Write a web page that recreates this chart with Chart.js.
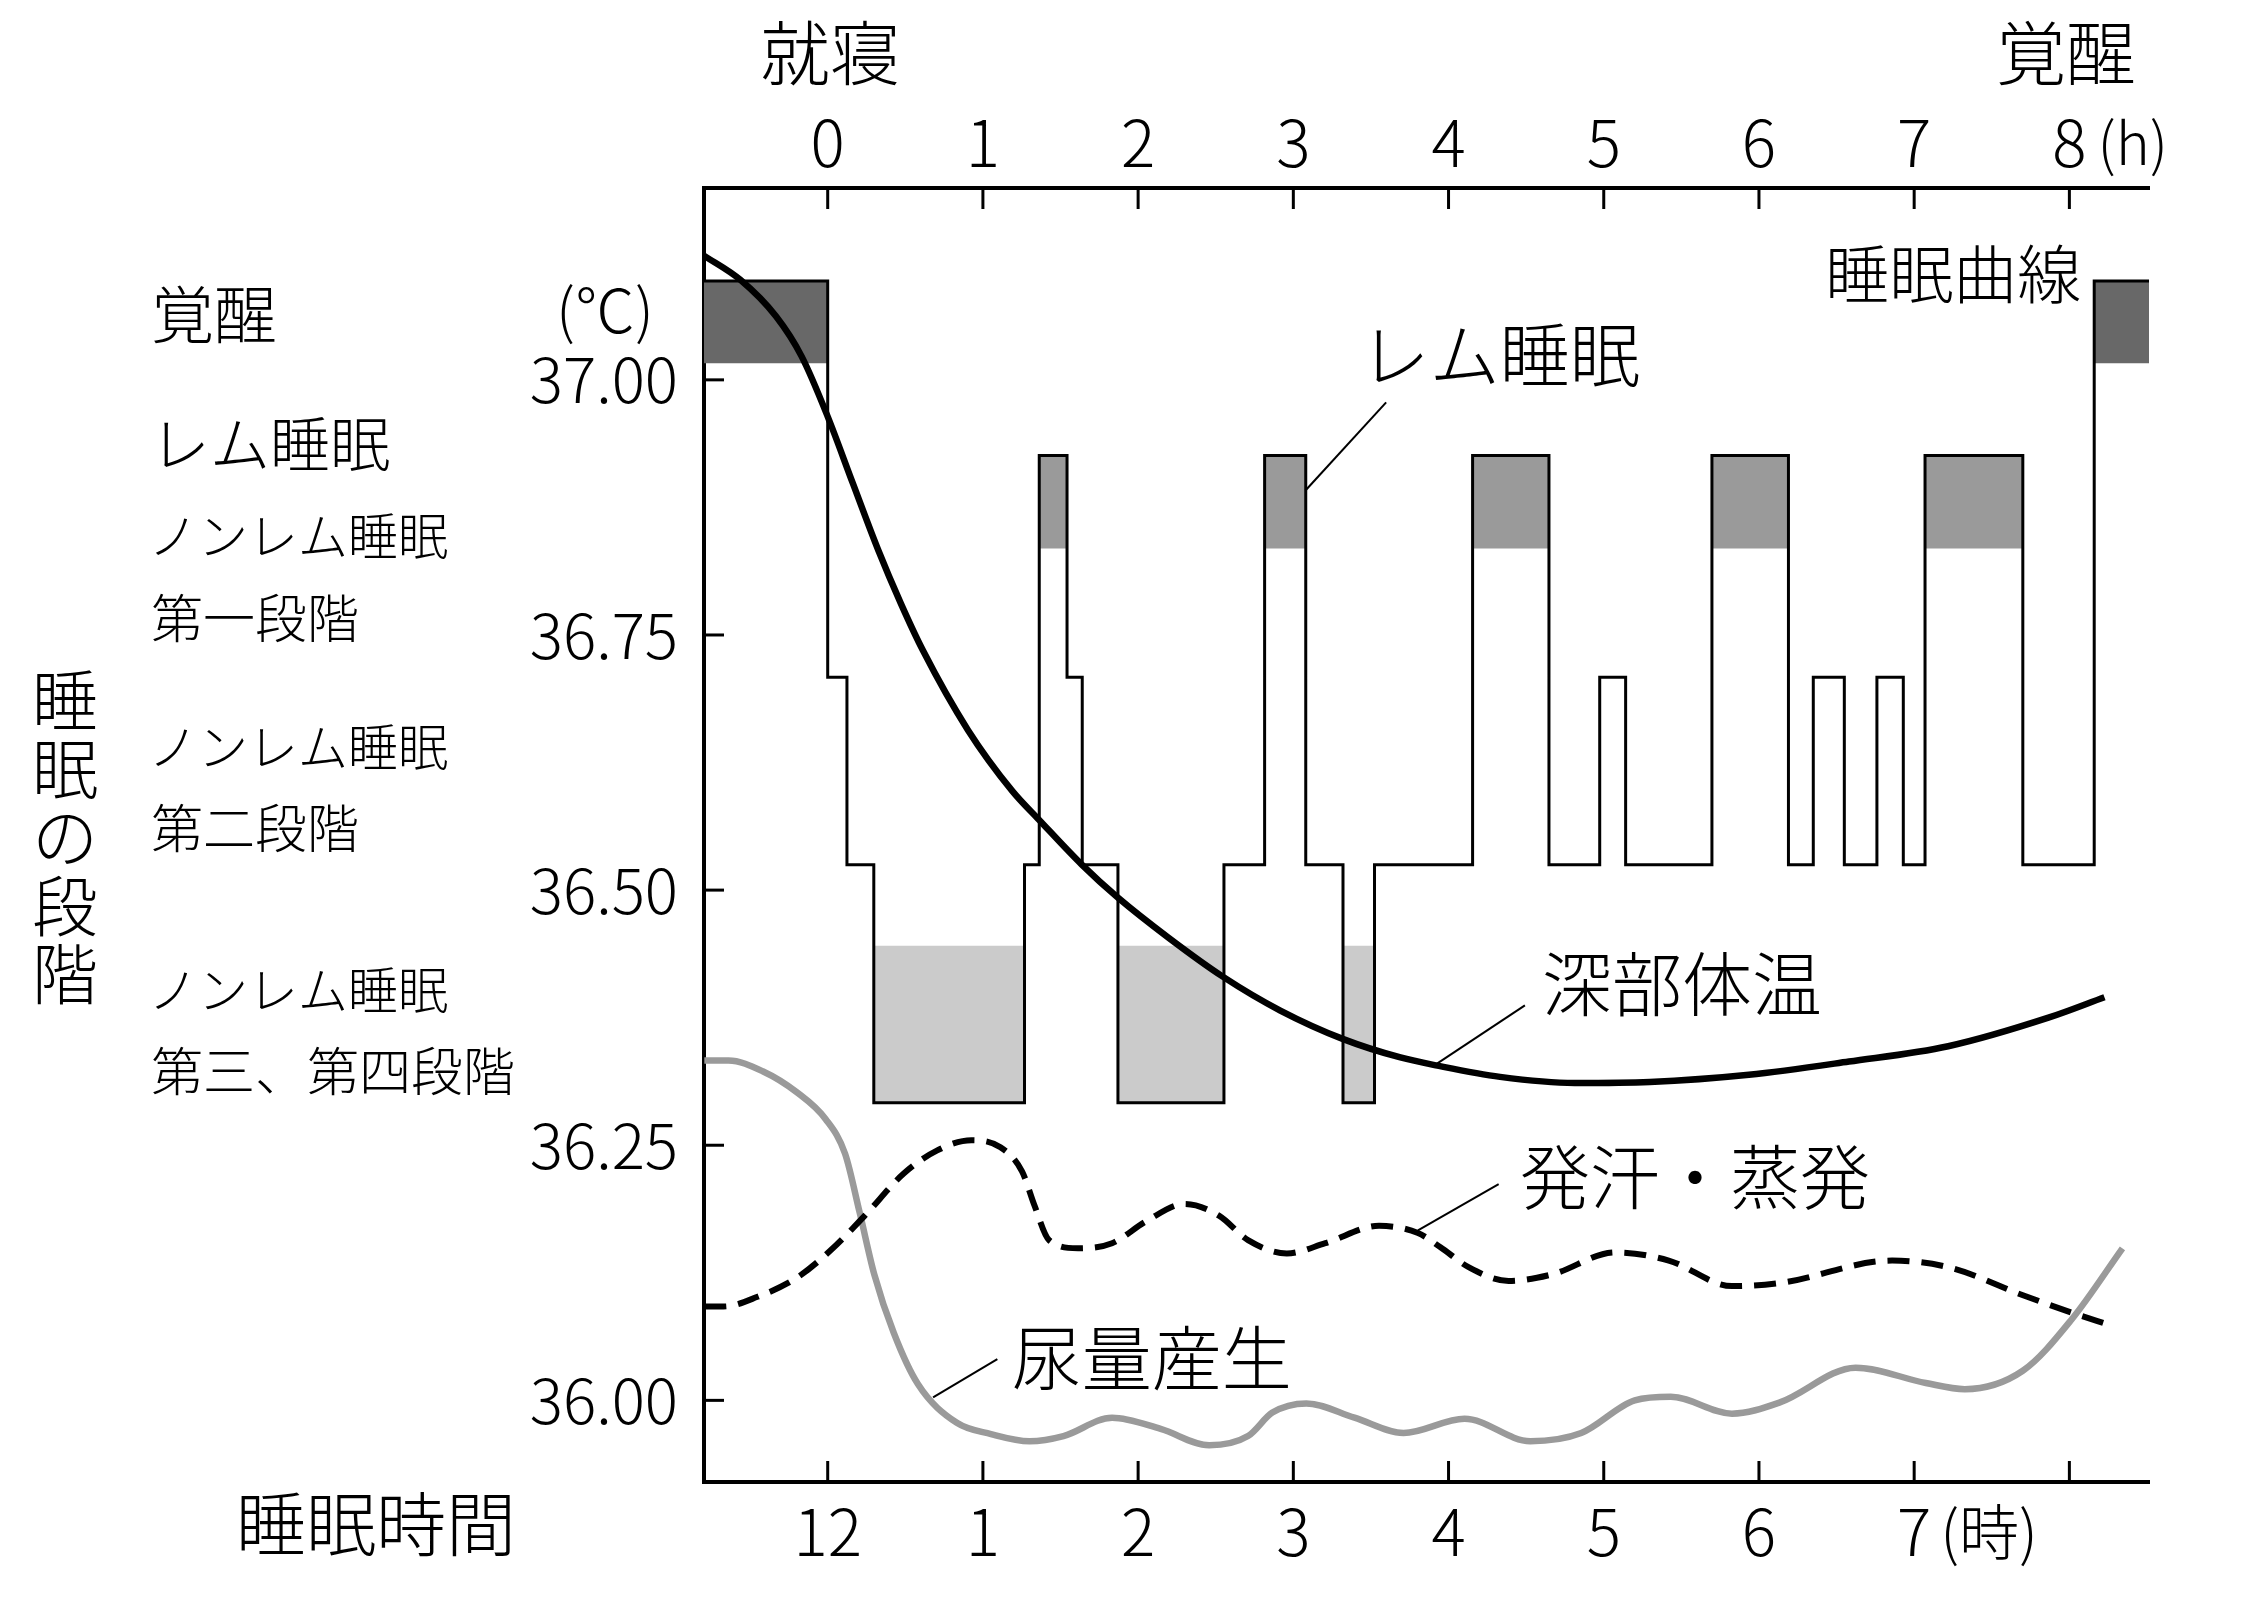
<!DOCTYPE html>
<html lang="ja">
<head>
<meta charset="utf-8">
<title>睡眠の段階と深部体温</title>
<script src="https://cdn.jsdelivr.net/npm/chart.js@4.4.0/dist/chart.umd.min.js"></script>
<style>
  html, body { margin: 0; padding: 0; background: #fff; }
  #wrap { width: 2263px; height: 1604px; }
</style>
</head>
<body>
<div id="wrap"><canvas id="sleepChart" width="2263" height="1604"></canvas></div>
<script>
// ---- axis ticks ----
var hourTicks = [0, 1, 2, 3, 4, 5, 6, 7, 8];
var hourLabels = ['0', '1', '2', '3', '4', '5', '6', '7', '8'];
var clockLabels = ['12', '1', '2', '3', '4', '5', '6', '7', ''];
var tempTicks = [36.00, 36.25, 36.50, 36.75, 37.00];

// ---- 深部体温 (hours after bedtime, degC) ----
var tempHours = [-0.8, -0.563, -0.332, -0.168, 0, 0.161, 0.326, 0.471, 0.613, 0.903, 1.19, 1.361, 1.637, 1.867,
    2.199, 2.548, 2.916, 3.322, 3.69, 3.929, 4.332, 4.813, 5.297, 5.935, 6.58, 7.219, 7.865, 8.226];
var tempValues = [37.122, 37.098, 37.062, 37.023, 36.964, 36.899, 36.833, 36.781, 36.735, 36.657, 36.597, 36.569, 36.525, 36.493,
    36.453, 36.415, 36.382, 36.354, 36.336, 36.328, 36.317, 36.311, 36.312, 36.319, 36.332, 36.347, 36.375, 36.395];

// ---- 尿量産生 ----
var urineHours = [-0.795, -0.639, -0.419, -0.2, -0.013, 0.112, 0.206, 0.3, 0.426, 0.581, 0.832, 1.052, 1.30, 1.519,
    1.832, 2.145, 2.458, 2.708, 2.865, 3.084, 3.394, 3.71, 4.103, 4.527, 4.855, 5.2, 5.432, 5.826, 6.135, 6.623,
    7.075, 7.326, 7.7, 8.013, 8.342];
var urineValues = [36.333, 36.333, 36.3225, 36.302, 36.2755, 36.2416, 36.184, 36.1235, 36.066, 36.016, 35.978, 35.967, 35.960, 35.965,
    35.983, 35.972, 35.956, 35.965, 35.988, 35.997, 35.983, 35.968, 35.982, 35.960, 35.968, 36.000, 36.0035, 35.987, 35.998, 36.032,
    36.017, 36.011, 36.029, 36.079, 36.149];

// ---- 発汗・蒸発 ----
var sweatHours = [-0.795, -0.671, -0.452, -0.2, 0.019, 0.239, 0.488, 0.706, 0.926, 1.113, 1.252, 1.332, 1.426, 1.613,
    1.832, 2.052, 2.301, 2.521, 2.708, 2.958, 3.206, 3.552, 3.803, 3.948, 4.135, 4.387, 4.668, 5.074, 5.419, 5.826,
    6.135, 6.858, 7.232, 7.701, 8.013, 8.265];
var sweatValues = [36.092, 36.092, 36.1015, 36.120, 36.147, 36.181, 36.222, 36.245, 36.255, 36.248, 36.2245, 36.191, 36.157, 36.149,
    36.154, 36.1755, 36.1925, 36.181, 36.157, 36.144, 36.154, 36.171, 36.164, 36.150, 36.130, 36.117, 36.1235, 36.145, 36.137, 36.112,
    36.115, 36.137, 36.130, 36.103, 36.086, 36.0735];

// ---- 睡眠曲線 (stage start times, stage codes) ----
var stageStart = [-0.8, 0.0, 0.124, 0.297, 1.268, 1.363, 1.542, 1.64, 1.87, 2.553, 2.815, 3.08, 3.32, 3.523,
    4.155, 4.647, 4.974, 5.141, 5.697, 6.19, 6.35, 6.55, 6.76, 6.93, 7.07, 7.70, 8.16];
var stageSeq = ['W', 'N1', 'N2', 'N3', 'N2', 'R', 'N1', 'N2', 'N3', 'N2', 'R', 'N2', 'N3', 'N2',
    'R', 'N2', 'N1', 'N2', 'R', 'N2', 'N1', 'N2', 'N1', 'N2', 'R', 'N2', 'W'];
var recordEnd = 8.513;
// depth of each stage on the hidden stage axis (N3 = 0 ... wake = 4)
var stageLevel = { W: 4, R: 3.151, N1: 2.072, N2: 1.159, N3: 0 };
// shaded band of the stage, drawn from the line to this value
var stageBand = { W: 3.60, R: 2.698, N3: 0.764 };
var stageColor = { W: '#686868', R: '#9a9a9a', N3: '#cbcbcb' };

var FONT = "'Noto Sans CJK JP', 'Noto Sans', sans-serif";
Chart.defaults.color = '#000';
Chart.defaults.font.family = FONT;

function pairs(xs, ys) {
    return xs.map(function(v, i) { return { x: v, y: ys[i] }; });
}

var datasets = [];

// shaded blocks for wake / REM / deep sleep
stageSeq.forEach(function(s, i) {
    if (!(s in stageBand)) return;
    var end = i + 1 < stageStart.length ? stageStart[i + 1] : recordEnd;
    datasets.push({
        data: [{ x: stageStart[i], y: stageLevel[s] }, { x: end, y: stageLevel[s] }],
        yAxisID: 'ys',
        borderColor: 'rgba(0,0,0,0)',
        borderWidth: 0,
        backgroundColor: stageColor[s],
        fill: { value: stageBand[s] },
        pointRadius: 0,
        order: 5
    });
});

// hypnogram outline
var hypno = stageSeq.map(function(s, i) { return { x: stageStart[i], y: stageLevel[s] }; });
hypno.push({ x: recordEnd, y: stageLevel.W });
datasets.push({
    data: hypno,
    yAxisID: 'ys',
    stepped: true,
    borderColor: '#000',
    borderWidth: 3,
    pointRadius: 0,
    fill: false,
    order: 4
});

datasets.push({
    label: '尿量産生',
    data: pairs(urineHours, urineValues),
    yAxisID: 'y',
    borderColor: '#9a9a9a',
    borderWidth: 6.5,
    cubicInterpolationMode: 'monotone',
    pointRadius: 0,
    fill: false,
    order: 2
});
datasets.push({
    label: '発汗・蒸発',
    data: pairs(sweatHours, sweatValues),
    yAxisID: 'y',
    borderColor: '#000',
    borderWidth: 6,
    borderDash: [22, 12],
    cubicInterpolationMode: 'monotone',
    pointRadius: 0,
    fill: false,
    order: 1
});
datasets.push({
    label: '深部体温',
    data: pairs(tempHours, tempValues),
    yAxisID: 'y',
    borderColor: '#000',
    borderWidth: 6.5,
    cubicInterpolationMode: 'monotone',
    pointRadius: 0,
    fill: false,
    order: 0
});

// labels inside the plot, anchored in data units (hours, degC)
var curveNotes = [
    { text: 'レム睡眠', x: 3.428, y: 37.0235, from: [3.598, 36.978], to: [3.078, 36.8916] },
    { text: '睡眠曲線', x: 6.427, y: 37.104, size: 64 },
    { text: '深部体温', x: 4.602, y: 36.4075, from: [4.492, 36.387], to: [3.916, 36.329] },
    { text: '発汗・蒸発', x: 4.46, y: 36.2184, from: [4.323, 36.212], to: [3.803, 36.1665] },
    { text: '尿量産生', x: 1.186, y: 36.041, from: [1.093, 36.0405], to: [0.679, 36.003] }
];

// labels outside the plot (canvas pixels)
var sideNotes = [
    { text: '覚醒', x: 151, y: 314, size: 63 },
    { text: 'レム睡眠', x: 150, y: 444, size: 60 },
    { text: 'ノンレム睡眠', x: 148, y: 536, size: 50 },
    { text: '第一段階', x: 151, y: 618, size: 52 },
    { text: 'ノンレム睡眠', x: 148, y: 747, size: 50 },
    { text: '第二段階', x: 151, y: 828, size: 52 },
    { text: 'ノンレム睡眠', x: 148, y: 990, size: 50 },
    { text: '第三、第四段階', x: 151, y: 1071, size: 52 },
    { text: '睡眠時間', x: 236, y: 1524, size: 70 },
    { text: '就寝', x: 830, y: 53, size: 70, align: 'center' },
    { text: '覚醒', x: 2066, y: 53, size: 70, align: 'center' },
    { text: '(℃)', x: 605, y: 310, size: 60, align: 'center' }
];

var sleepLabels = {
    id: 'sleepLabels',
    afterDraw: function(chart) {
        var ctx = chart.ctx;
        var sx = chart.scales.x;
        var sy = chart.scales.y;
        var area = chart.chartArea;
        function seg(x1, y1, x2, y2) {
            ctx.beginPath();
            ctx.moveTo(x1, y1);
            ctx.lineTo(x2, y2);
            ctx.stroke();
        }
        function write(t, x, y, size, align) {
            ctx.font = '300 ' + size + 'px ' + FONT;
            ctx.textAlign = align || 'left';
            ctx.textBaseline = 'middle';
            ctx.fillText(t, x, y);
        }
        ctx.save();
        ctx.strokeStyle = '#000';
        ctx.fillStyle = '#000';

        // tick marks point into the plot
        ctx.lineWidth = 3;
        hourTicks.forEach(function(h) {
            var px = sx.getPixelForValue(h);
            seg(px, area.top, px, area.top + 21);
            seg(px, area.bottom, px, area.bottom - 21);
        });
        tempTicks.forEach(function(t) {
            var py = sy.getPixelForValue(t);
            seg(area.left, py, area.left + 20, py);
        });

        ctx.lineWidth = 2;
        curveNotes.forEach(function(n) {
            if (n.from) {
                seg(sx.getPixelForValue(n.from[0]), sy.getPixelForValue(n.from[1]),
                    sx.getPixelForValue(n.to[0]), sy.getPixelForValue(n.to[1]));
            }
            write(n.text, sx.getPixelForValue(n.x), sy.getPixelForValue(n.y), n.size || 70);
        });

        sideNotes.forEach(function(n) {
            write(n.text, n.x, n.y, n.size, n.align);
        });

        // vertical axis title
        '睡眠の段階'.split('').forEach(function(c, i) {
            write(c, 65, 700 + i * 68.5, 66, 'center');
        });

        // units after the last labelled tick
        write('(時)', sx.getPixelForValue(7) + 26, area.bottom + 50, 60);
        write('(h)', sx.getPixelForValue(8) + 28, area.top - 45, 58);
        ctx.restore();
    }
};

function hourScale(position, labels, size, pad) {
    return {
        type: 'linear',
        position: position,
        min: -0.797,
        max: recordEnd,
        grid: { display: false, drawTicks: false },
        border: { display: true, color: '#000', width: 4 },
        afterBuildTicks: function(s) {
            s.ticks = hourTicks.map(function(v) { return { value: v }; });
        },
        afterFit: function(s) { s.height = size; },
        ticks: {
            autoSkip: false,
            maxRotation: 0,
            padding: pad,
            font: { size: 64, weight: 300, lineHeight: 1.2 },
            callback: function(v) { return labels[hourTicks.indexOf(v)]; }
        }
    };
}

new Chart(document.getElementById('sleepChart'), {
    type: 'line',
    data: { datasets: datasets },
    plugins: [sleepLabels],
    options: {
        responsive: false,
        animation: false,
        devicePixelRatio: 1,
        layout: { padding: { left: 0, right: 114, top: 0, bottom: 0 } },
        plugins: { legend: { display: false }, tooltip: { enabled: false } },
        scales: {
            x: hourScale('bottom', clockLabels, 122, 11),
            xTop: hourScale('top', hourLabels, 188, 7),
            y: {
                type: 'linear',
                position: 'left',
                min: 35.920,
                max: 37.188,
                grid: { display: false, drawTicks: false },
                border: { display: true, color: '#000', width: 4 },
                afterBuildTicks: function(s) {
                    s.ticks = tempTicks.map(function(v) { return { value: v }; });
                },
                afterFit: function(s) { s.width = 704; },
                ticks: {
                    padding: 26,
                    font: { size: 62, weight: 300 },
                    callback: function(v) { return v.toFixed(2); }
                }
            },
            ys: {
                type: 'linear',
                display: false,
                min: -1.846,
                max: 4.453
            }
        }
    }
});
</script>
</body>
</html>
